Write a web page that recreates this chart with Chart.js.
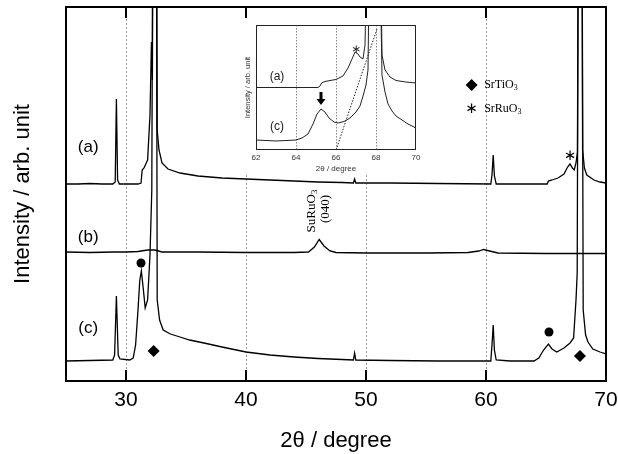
<!DOCTYPE html>
<html>
<head>
<meta charset="utf-8">
<script src="https://cdn.jsdelivr.net/npm/chart.js@4.4.1/dist/chart.umd.min.js"></script>
<style>
  html, body { margin: 0; padding: 0; background: #fff; }
  #wrap { position: relative; width: 618px; height: 454px; }
  #mainChart { position: absolute; left: 0; top: 0; }
  #insetChart { position: absolute; left: 243px; top: 18px; background: #fff; }
</style>
</head>
<body>
<div id="wrap">
  <canvas id="mainChart" width="618" height="454"></canvas>
  <canvas id="insetChart" width="185" height="156"></canvas>
</div>
<script>
// main pattern, 2theta in degrees, intensity in arbitrary units (off-scale peaks clipped)
const traceAX = [25, 26, 27, 28, 28.9, 29.1, 29.2, 29.3, 29.45, 30, 31, 31.25, 31.35, 31.5, 31.8, 32, 32.12, 32.2, 32.3, 32.5, 32.6, 32.75, 33, 33.5, 34.5, 36, 38, 40, 42, 44, 46, 48, 48.95, 49.05, 49.15, 52, 56, 60.4, 60.5, 60.6, 60.7, 60.85, 63, 65.1, 65.2, 65.5, 66, 66.5, 66.8, 67, 67.2, 67.35, 67.5, 67.62, 67.75, 67.95, 68.05, 68.2, 68.4, 69, 69.5, 70];
const traceAY = [197, 197, 197.5, 197, 197, 199, 282, 201, 197, 197, 197, 198, 211, 213, 221, 266, 339, 301, 700, 700, 251, 231, 218, 212, 208, 205, 203, 202, 201, 200, 199, 198.5, 198, 202, 198, 198, 197.5, 197, 206, 226, 205, 197, 197, 197, 200, 201, 203, 207, 214, 217, 213, 211, 218, 229, 700, 700, 231, 213, 206, 201, 199, 198];

const traceBX = [25, 27, 29, 30, 31, 31.8, 32.4, 33, 36, 40, 44, 45.2, 45.7, 46.1, 46.5, 47, 47.5, 50, 55, 58.5, 59.4, 59.8, 60.3, 61, 65, 70];
const traceBY = [129, 128.5, 129, 129, 129.5, 131, 131, 129, 129, 128.5, 128.5, 129, 134, 141.5, 135, 130, 128.5, 128, 128, 128.5, 130, 131.5, 130, 128, 127.5, 127.5];

const traceCX = [25, 27, 28.9, 29.05, 29.2, 29.35, 29.5, 30.3, 30.6, 30.8, 31, 31.15, 31.28, 31.45, 31.6, 31.8, 32, 32.15, 32.3, 32.5, 32.6, 32.8, 33.1, 33.7, 34.5, 35.3, 36.5, 38, 40, 42, 44, 46, 48, 48.95, 49.05, 49.15, 52, 56, 60.4, 60.5, 60.6, 60.7, 60.85, 62, 64, 64.4, 64.8, 65.2, 65.5, 65.9, 66.5, 67, 67.3, 67.5, 67.6, 67.75, 67.95, 68.1, 68.3, 68.5, 68.9, 69.5, 70];
const traceCY = [20, 20.5, 21, 26, 85, 26, 22, 21, 23, 36, 71, 101, 110, 91, 73, 81, 126, 191, 700, 700, 81, 61, 51, 47, 44, 41, 38, 34, 29, 26, 24, 22.5, 21.5, 21, 28, 21, 20.5, 20, 20, 36, 56, 31, 21, 20, 20, 23, 31, 37, 32, 29, 33, 38, 43, 81, 108, 700, 700, 71, 46, 39, 32, 29, 27];

const xTicks = [30, 40, 50, 60, 70];

// marker positions (2theta, intensity)
const dotX = [31.25, 65.25];
const dotY = [118, 49];
const diamondX = [32.3, 67.83, 58.8];
const diamondY = [30, 25, 296];

// inset, 62-70 degrees
const insetAX = [62, 63, 64, 65.1, 65.2, 65.28, 65.45, 65.7, 66, 66.35, 66.6, 66.8, 66.95, 67.1, 67.2, 67.35, 67.45, 67.6, 68.2, 68.3, 68.45, 68.7, 69, 69.5, 70];
const insetAY = [62.5, 62.5, 62.5, 62.5, 64, 67, 68.5, 69.5, 70.5, 74, 82, 91, 98, 96, 93, 91, 105, 250, 250, 95, 80, 73, 69.5, 68, 67];
const insetCX = [62, 62.5, 63, 63.5, 64, 64.3, 64.6, 64.85, 65.05, 65.25, 65.45, 65.65, 65.9, 66.1, 66.4, 66.7, 67, 67.2, 67.35, 67.5, 67.6, 67.7, 68.15, 68.3, 68.45, 68.6, 68.8, 69, 69.3, 69.6, 70];
const insetCY = [10, 9.5, 9, 9.5, 10, 12, 16, 26, 36, 41, 38, 32, 28, 27, 28.5, 32, 38, 44, 54, 65, 80, 250, 250, 75, 58, 46, 39, 34, 30, 26, 22];
const tangentX = [66.0, 68.05];
const tangentY = [0, 121];
const insetTicks = [62, 64, 66, 68, 70];

const pts = (xs, ys) => xs.map((x, i) => ({ x: x, y: ys[i] }));

Chart.defaults.font.family = '"Liberation Sans", Arial, sans-serif';
Chart.defaults.color = '#000';

function subText(ctx, base, sub, x, y, size) {
    // draws base text with a subscript, centred on x
    ctx.font = size + 'px "Liberation Serif", serif';
    const w1 = ctx.measureText(base).width;
    ctx.font = Math.round(size * 0.7) + 'px "Liberation Serif", serif';
    const w2 = ctx.measureText(sub).width;
    const start = x - (w1 + w2) / 2;
    ctx.textAlign = 'left';
    ctx.font = size + 'px "Liberation Serif", serif';
    ctx.fillText(base, start, y);
    ctx.font = Math.round(size * 0.7) + 'px "Liberation Serif", serif';
    ctx.fillText(sub, start + w1, y + size * 0.22);
}

const mainDecor = {
    id: 'mainDecor',
    afterDatasetsDraw(chart) {
        const { ctx, chartArea: a, scales: { x, y } } = chart;
        ctx.save();
        ctx.strokeStyle = '#000';
        ctx.lineWidth = 2;
        ctx.strokeRect(a.left, a.top, a.right - a.left, a.bottom - a.top);
        xTicks.forEach(v => {
            if (v === 70) return;
            const px = Math.round(x.getPixelForValue(v));
            ctx.beginPath();
            ctx.moveTo(px, a.bottom); ctx.lineTo(px, a.bottom - 11);
            ctx.moveTo(px, a.top); ctx.lineTo(px, a.top + 11);
            ctx.stroke();
        });

        ctx.fillStyle = '#000';
        ctx.textAlign = 'center';
        ctx.textBaseline = 'middle';
        ctx.font = '17px "Liberation Sans", Arial, sans-serif';
        ctx.fillText('(a)', x.getPixelForValue(26.85), y.getPixelForValue(234));
        ctx.fillText('(b)', x.getPixelForValue(26.85), y.getPixelForValue(144));
        ctx.fillText('(c)', x.getPixelForValue(26.85), y.getPixelForValue(53));

        ctx.font = '15px "DejaVu Sans", sans-serif';
        ctx.fillText('\u2217', x.getPixelForValue(67.0), y.getPixelForValue(225));
        ctx.fillText('\u2217', x.getPixelForValue(58.8), y.getPixelForValue(272));

        ctx.textBaseline = 'middle';
        const lx = x.getPixelForValue(59.85);
        ctx.textAlign = 'left';
        ctx.font = '12px "Liberation Serif", serif';
        const wTi = ctx.measureText('SrTiO').width;
        ctx.fillText('SrTiO', lx, y.getPixelForValue(296));
        ctx.font = '8px "Liberation Serif", serif';
        ctx.fillText('3', lx + wTi, y.getPixelForValue(296) + 3);
        ctx.font = '12px "Liberation Serif", serif';
        const wRu = ctx.measureText('SrRuO').width;
        ctx.fillText('SrRuO', lx, y.getPixelForValue(272));
        ctx.font = '8px "Liberation Serif", serif';
        ctx.fillText('3', lx + wRu, y.getPixelForValue(272) + 3);

        // rotated peak label
        ctx.save();
        ctx.translate(x.getPixelForValue(45.5), y.getPixelForValue(170));
        ctx.rotate(-Math.PI / 2);
        subText(ctx, 'SuRuO', '3', 0, 0, 13);
        ctx.restore();
        ctx.save();
        ctx.translate(x.getPixelForValue(46.6), y.getPixelForValue(172));
        ctx.rotate(-Math.PI / 2);
        ctx.textAlign = 'center';
        ctx.font = '13px "Liberation Serif", serif';
        ctx.fillText('(040)', 0, 0);
        ctx.restore();
        ctx.restore();
    }
};

const traceStyle = { borderColor: '#000', borderWidth: 1.3, pointRadius: 0, tension: 0, fill: false, clip: 0 };

new Chart(document.getElementById('mainChart'), {
    type: 'line',
    data: {
        datasets: [
            { ...traceStyle, data: pts(traceAX, traceAY) },
            { ...traceStyle, data: pts(traceBX, traceBY) },
            { ...traceStyle, data: pts(traceCX, traceCY) },
            { type: 'scatter', data: pts(dotX, dotY), pointStyle: 'circle', pointRadius: 4.5, backgroundColor: '#000', borderColor: '#000', borderWidth: 0 },
            { type: 'scatter', data: pts(diamondX, diamondY), pointStyle: 'rectRot', pointRadius: 6, backgroundColor: '#000', borderColor: '#000', borderWidth: 0 }
        ]
    },
    options: {
        responsive: false,
        animation: false,
        devicePixelRatio: 1,
        layout: { padding: { left: 0, right: 12, top: 7, bottom: 0 } },
        plugins: { legend: { display: false }, tooltip: { enabled: false } },
        scales: {
            x: {
                type: 'linear',
                min: 25,
                max: 70,
                afterBuildTicks: scale => { scale.ticks = xTicks.map(v => ({ value: v })); },
                afterFit: scale => { scale.height = 73; scale.paddingLeft = 0; scale.paddingRight = 0; },
                ticks: { font: { size: 21 }, padding: 7, color: '#000', maxRotation: 0 },
                grid: { color: '#9a9a9a', lineWidth: 1, drawTicks: false },
                border: { display: false, dash: [2, 2] },
                title: { display: true, text: '2\u03b8 / degree', font: { size: 22 }, color: '#000', padding: { top: 0, bottom: 0 } }
            },
            y: {
                min: 0,
                max: 374,
                afterFit: scale => { scale.width = 66; },
                ticks: { display: false },
                grid: { display: false },
                border: { display: false },
                title: { display: true, text: 'Intensity / arb. unit', font: { size: 22 }, color: '#000', padding: { top: 10, bottom: 0 } }
            }
        }
    },
    plugins: [mainDecor]
});

const insetDecor = {
    id: 'insetDecor',
    afterDatasetsDraw(chart) {
        const { ctx, chartArea: a, scales: { x, y } } = chart;
        ctx.save();
        ctx.strokeStyle = '#222';
        ctx.lineWidth = 1;
        ctx.strokeRect(a.left + 0.5, a.top + 0.5, a.right - a.left - 1, a.bottom - a.top - 1);

        ctx.fillStyle = '#222';
        ctx.textAlign = 'center';
        ctx.textBaseline = 'middle';
        ctx.font = '12px "Liberation Sans", Arial, sans-serif';
        ctx.fillText('(a)', x.getPixelForValue(63.05), y.getPixelForValue(73));
        ctx.fillText('(c)', x.getPixelForValue(63.05), y.getPixelForValue(23));
        ctx.font = '12px "DejaVu Sans", sans-serif';
        ctx.fillText('\u2217', x.getPixelForValue(67.0), y.getPixelForValue(100));

        // arrow pointing at the (c) shoulder
        const ax = x.getPixelForValue(65.25);
        const top = y.getPixelForValue(58);
        const tip = y.getPixelForValue(45);
        ctx.fillStyle = '#000';
        ctx.fillRect(ax - 1.5, top, 3, tip - top - 5);
        ctx.beginPath();
        ctx.moveTo(ax - 4.5, tip - 6);
        ctx.lineTo(ax + 4.5, tip - 6);
        ctx.lineTo(ax, tip);
        ctx.closePath();
        ctx.fill();
        ctx.restore();
    }
};

const insetStyle = { borderColor: '#222', borderWidth: 1, pointRadius: 0, tension: 0, fill: false, clip: 0 };

new Chart(document.getElementById('insetChart'), {
    type: 'line',
    data: {
        datasets: [
            { ...insetStyle, data: pts(insetAX, insetAY) },
            { ...insetStyle, data: pts(insetCX, insetCY) },
            { ...insetStyle, data: pts(tangentX, tangentY), borderDash: [1.5, 1.5] }
        ]
    },
    options: {
        responsive: false,
        animation: false,
        devicePixelRatio: 1,
        layout: { padding: { left: 0, right: 12, top: 7, bottom: 0 } },
        plugins: { legend: { display: false }, tooltip: { enabled: false } },
        scales: {
            x: {
                type: 'linear',
                min: 62,
                max: 70,
                afterBuildTicks: scale => { scale.ticks = insetTicks.map(v => ({ value: v })); },
                afterFit: scale => { scale.height = 24; scale.paddingLeft = 0; scale.paddingRight = 0; },
                ticks: { font: { size: 8 }, padding: 3, color: '#333', maxRotation: 0 },
                grid: { color: ctx => (ctx.tick && (ctx.tick.value === 62 || ctx.tick.value === 70)) ? 'rgba(0,0,0,0)' : '#8a8a8a', lineWidth: 1, drawTicks: false },
                border: { display: false, dash: [1.5, 1.5] },
                title: { display: true, text: '2\u03b8 / degree', font: { size: 8 }, color: '#333', padding: { top: 0, bottom: 0 } }
            },
            y: {
                min: 0,
                max: 125,
                afterFit: scale => { scale.width = 13; },
                ticks: { display: false },
                grid: { display: false },
                border: { display: false },
                title: { display: true, text: 'Intensity / arb. unit', font: { size: 7.5 }, color: '#333', padding: { top: 0, bottom: 0 } }
            }
        }
    },
    plugins: [insetDecor]
});
</script>
</body>
</html>
